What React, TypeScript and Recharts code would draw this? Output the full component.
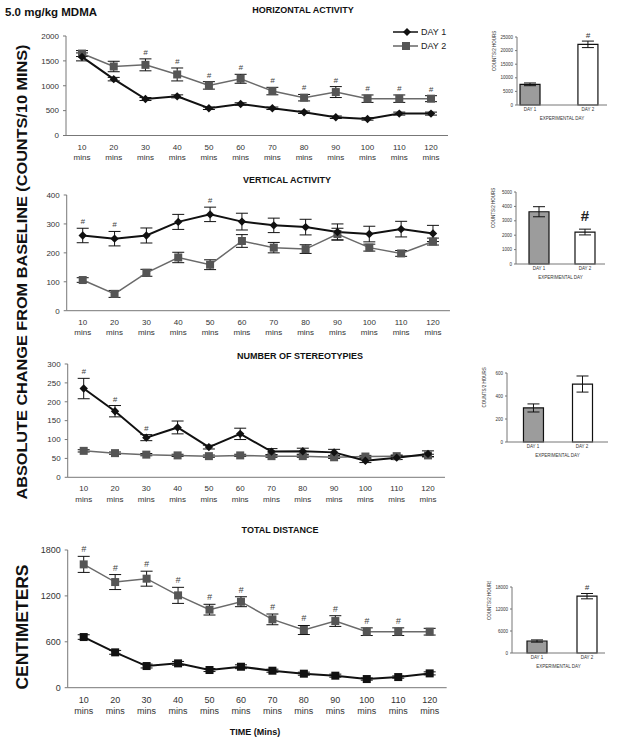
import React from 'react';
import { LineChart, Line, XAxis, YAxis, ErrorBar, LabelList, BarChart, Bar, Cell } from 'recharts';

const FONT = '"Liberation Sans", Arial, Helvetica, sans-serif';

const times = ['10', '20', '30', '40', '50', '60', '70', '80', '90', '100', '110', '120'];
const days = ['DAY 1', 'DAY 2'];

// horizontal activity
const horizDay1 = [1580, 1133, 733, 787, 547, 633, 547, 467, 367, 333, 440, 440];
const horizDay1Err = [80, 35, 30, 30, 25, 25, 25, 25, 25, 25, 30, 30];
const horizDay2 = [1647, 1387, 1420, 1227, 1007, 1140, 893, 760, 873, 740, 740, 740];
const horizDay2Err = [60, 105, 120, 130, 75, 90, 75, 65, 110, 75, 75, 60];
const horizSig1 = [false, false, false, false, false, false, false, false, false, false, false, false];
const horizSig2 = [false, false, true, true, true, true, true, true, true, true, true, true];

// vertical activity
const vertDay1 = [260, 249, 260, 307, 333, 308, 295, 289, 272, 265, 282, 267];
const vertDay1Err = [25, 25, 26, 26, 25, 29, 25, 27, 28, 27, 27, 28];
const vertDay2 = [106, 58, 131, 184, 159, 241, 218, 213, 265, 218, 198, 239];
const vertDay2Err = [8, 12, 12, 18, 17, 22, 18, 15, 20, 12, 10, 12];
const vertSig1 = [true, true, false, false, true, false, false, false, false, false, false, false];
const vertSig2 = [false, false, false, false, false, false, false, false, false, false, false, false];

// number of stereotypies
const stereoDay1 = [235, 175, 105, 132, 80, 115, 68, 69, 66, 44, 52, 62];
const stereoDay1Err = [27, 15, 8, 17, 5, 15, 8, 8, 8, 5, 5, 8];
const stereoDay2 = [70, 64, 60, 58, 56, 58, 56, 56, 53, 55, 56, 58];
const stereoDay2Err = [3, 3, 3, 3, 3, 3, 3, 3, 3, 3, 3, 3];
const stereoSig1 = [true, true, true, false, false, false, false, false, false, false, false, false];
const stereoSig2 = [false, false, false, false, false, false, false, false, false, false, false, false];

// total distance
const distDay1 = [662, 462, 283, 318, 231, 274, 222, 183, 157, 113, 139, 187];
const distDay1Err = [30, 25, 25, 25, 20, 25, 20, 20, 20, 15, 15, 20];
const distDay2 = [1612, 1381, 1425, 1207, 1020, 1124, 893, 754, 871, 732, 732, 732];
const distDay2Err = [105, 98, 98, 105, 70, 65, 70, 59, 70, 50, 50, 44];
const distSig1 = [false, false, false, false, false, false, false, false, false, false, false, false];
const distSig2 = [true, true, true, true, true, true, true, true, true, true, true, false];

// 2 hour totals (insets)
const horizTotal = [7600, 22300];
const horizTotalErr = [500, 1200];
const horizTotalSig = [false, true];
const vertTotal = [3630, 2220];
const vertTotalErr = [350, 200];
const vertTotalSig = [false, true];
const stereoTotal = [296, 504];
const stereoTotalErr = [35, 70];
const stereoTotalSig = [false, false];
const distTotal = [3270, 15500];
const distTotalErr = [300, 730];
const distTotalSig = [false, true];

const barFills = ['#9c9c9c', '#ffffff'];

const makeDot = (shape: string, fill: string) => (props: any) => {
  const { cx, cy, index } = props;
  if (cx == null || cy == null) return <g key={`dot-${index}`} />;
  if (shape === 'diamond') {
    const r = 4.2;
    return <path key={`dot-${index}`} d={`M${cx},${cy - r}L${cx + r},${cy}L${cx},${cy + r}L${cx - r},${cy}Z`} fill={fill} />;
  }
  return <rect key={`dot-${index}`} x={cx - 4} y={cy - 4} width={8} height={8} fill={fill} />;
};

const sigLabel = (flags: boolean[], errs: number[], pxPerUnit: number, size: number) => (props: any) => {
  const { x, y, index } = props;
  if (!flags[index]) return null;
  return (
    <text x={x} y={y - errs[index] * pxPerUnit - 4} textAnchor="middle" fontSize={size} fontStyle="italic" fill="#444" fontFamily={FONT}>
      #
    </text>
  );
};

const MinsTick = (props: any) => {
  const { x, y, payload, fs } = props;
  return (
    <text x={x} y={y} textAnchor="middle" fontSize={fs} fill="#333" fontFamily={FONT}>
      <tspan x={x} dy={fs + 6}>{payload.value}</tspan>
      <tspan x={x} dy={fs + 2.5}>mins</tspan>
    </text>
  );
};

type PanelProps = {
  plotTop: number;
  axisY: number;
  axisX: number;
  right: number;
  yMax: number;
  yTicks: number[];
  d1: number[];
  e1: number[];
  d2: number[];
  e2: number[];
  s1: boolean[];
  s2: boolean[];
  dot1: string;
  fs: number;
};

const Panel: React.FC<PanelProps> = ({ plotTop, axisY, axisX, right, yMax, yTicks, d1, e1, d2, e2, s1, s2, dot1, fs }) => {
  const mt = 8;
  const xh = 30;
  const plotH = axisY - plotTop;
  const ppu = plotH / yMax;
  const data = times.map((t, i) => ({ t, d1: d1[i], e1: e1[i], d2: d2[i], e2: e2[i] }));
  return (
    <div style={{ position: 'absolute', left: 0, top: plotTop - mt }}>
      <LineChart width={right + 4} height={plotH + mt + xh} data={data} margin={{ top: mt, right: 4, left: 0, bottom: 0 }}>
        <XAxis
          dataKey="t"
          padding={{ left: 16, right: 17 }}
          tickLine={false}
          tickSize={0}
          tickMargin={0}
          height={xh}
          interval={0}
          stroke="#777"
          tick={(p: any) => <MinsTick {...p} fs={fs} />}
        />
        <YAxis
          width={axisX}
          domain={[0, yMax]}
          ticks={yTicks}
          tickSize={3}
          tickMargin={4}
          stroke="#777"
          tick={{ fontSize: fs, fill: '#333', fontFamily: FONT }}
        />
        <Line dataKey="d2" stroke="#6a6a6a" strokeWidth={1.5} dot={makeDot('square', '#555')} isAnimationActive={false}>
          <ErrorBar dataKey="e2" width={6} stroke="#111" strokeWidth={1} />
          <LabelList dataKey="d2" content={sigLabel(s2, e2, ppu, fs)} />
        </Line>
        <Line dataKey="d1" stroke="#111" strokeWidth={2} dot={makeDot(dot1, '#111')} isAnimationActive={false}>
          <ErrorBar dataKey="e1" width={6} stroke="#111" strokeWidth={1} />
          <LabelList dataKey="d1" content={sigLabel(s1, e1, ppu, fs)} />
        </Line>
      </LineChart>
    </div>
  );
};

type InsetProps = {
  x0: number;
  plotTop: number;
  axisY: number;
  x1: number;
  yMax: number;
  yTicks: number[];
  xDomain: number[];
  values: number[];
  errs: number[];
  sig: boolean[];
  bigSig?: boolean;
};

const Inset: React.FC<InsetProps> = ({ x0, plotTop, axisY, x1, yMax, yTicks, xDomain, values, errs, sig, bigSig }) => {
  const yw = 28;
  const mt = 6;
  const xh = 16;
  const plotH = axisY - plotTop;
  const ppu = plotH / yMax;
  const data = days.map((d, i) => ({ pos: i + 1, v: values[i], e: errs[i] }));
  const barSig = (props: any) => {
    const { x, y, width, index } = props;
    if (!sig[index]) return null;
    const top = y - errs[index] * ppu;
    return bigSig ? (
      <text x={x + width / 2} y={top - 8} textAnchor="middle" fontSize={15} fontWeight="bold" fill="#222" fontFamily={FONT}>#</text>
    ) : (
      <text x={x + width / 2} y={top - 3} textAnchor="middle" fontSize={8} fontStyle="italic" fill="#333" fontFamily={FONT}>#</text>
    );
  };
  return (
    <div style={{ position: 'absolute', left: x0 - yw, top: plotTop - mt }}>
      <BarChart width={x1 - x0 + yw + 2} height={plotH + mt + xh} data={data} margin={{ top: mt, right: 2, left: 0, bottom: 0 }}>
        <XAxis
          dataKey="pos"
          type="number"
          domain={xDomain}
          ticks={[1, 2]}
          tickFormatter={(v: number) => days[v - 1]}
          tickLine={false}
          tickSize={0}
          tickMargin={3}
          height={xh}
          stroke="#777"
          tick={{ fontSize: 4.5, fill: '#333', fontFamily: FONT }}
          label={{ value: 'EXPERIMENTAL DAY', position: 'insideBottom', offset: 1, fontSize: 4.5, fill: '#333', fontFamily: FONT }}
        />
        <YAxis
          width={yw}
          domain={[0, yMax]}
          ticks={yTicks}
          tickSize={2}
          tickMargin={2}
          stroke="#777"
          tick={{ fontSize: 4.5, fill: '#333', fontFamily: FONT }}
          label={{ value: 'COUNTS/2 HOURS', angle: -90, position: 'insideLeft', offset: 5, fontSize: 4.5, fill: '#333', fontFamily: FONT }}
        />
        <Bar dataKey="v" barSize={20} stroke="#111" strokeWidth={1.2} isAnimationActive={false}>
          {values.map((v, i) => (
            <Cell key={`c-${i}`} fill={barFills[i]} />
          ))}
          <ErrorBar dataKey="e" width={6} stroke="#111" strokeWidth={1} />
          <LabelList dataKey="v" content={barSig} />
        </Bar>
      </BarChart>
    </div>
  );
};

const titleStyle = { fontSize: 9, fontWeight: 'bold' as const, fill: '#111', fontFamily: FONT };

export default function App() {
  return (
    <div style={{ position: 'absolute', left: 0, top: 0, width: 640, height: 750, background: '#fff', overflow: 'hidden' }}>
      <Panel plotTop={36} axisY={135.5} axisX={66} right={448} yMax={2000} yTicks={[0, 500, 1000, 1500, 2000]}
        d1={horizDay1} e1={horizDay1Err} d2={horizDay2} e2={horizDay2Err} s1={horizSig1} s2={horizSig2} dot1="diamond" fs={8} />
      <Panel plotTop={195} axisY={310.7} axisX={66.7} right={450} yMax={400} yTicks={[0, 100, 200, 300, 400]}
        d1={vertDay1} e1={vertDay1Err} d2={vertDay2} e2={vertDay2Err} s1={vertSig1} s2={vertSig2} dot1="diamond" fs={8} />
      <Panel plotTop={364} axisY={477.3} axisX={67.7} right={445} yMax={300} yTicks={[0, 50, 100, 150, 200, 250, 300]}
        d1={stereoDay1} e1={stereoDay1Err} d2={stereoDay2} e2={stereoDay2Err} s1={stereoSig1} s2={stereoSig2} dot1="diamond" fs={8} />
      <Panel plotTop={550} axisY={687.7} axisX={67.7} right={446.7} yMax={1800} yTicks={[0, 600, 1200, 1800]}
        d1={distDay1} e1={distDay1Err} d2={distDay2} e2={distDay2Err} s1={distSig1} s2={distSig2} dot1="square" fs={9} />

      <Inset x0={517} plotTop={37} axisY={105} x1={607} yMax={25000} yTicks={[0, 5000, 10000, 15000, 20000, 25000]}
        xDomain={[0.776, 2.33]} values={horizTotal} errs={horizTotalErr} sig={horizTotalSig} />
      <Inset x0={516} plotTop={192} axisY={264} x1={605} yMax={5000} yTicks={[0, 1000, 2000, 3000, 4000, 5000]}
        xDomain={[0.5, 2.435]} values={vertTotal} errs={vertTotalErr} sig={vertTotalSig} bigSig />
      <Inset x0={507} plotTop={373} axisY={442} x1={608} yMax={600} yTicks={[0, 200, 400, 600]}
        xDomain={[0.47, 2.53]} values={stereoTotal} errs={stereoTotalErr} sig={stereoTotalSig} />
      <Inset x0={512} plotTop={587} axisY={653} x1={605} yMax={18000} yTicks={[0, 6000, 12000, 18000]}
        xDomain={[0.5, 2.36]} values={distTotal} errs={distTotalErr} sig={distTotalSig} />

      <svg width={640} height={750} style={{ position: 'absolute', left: 0, top: 0, pointerEvents: 'none' }}>
        <text x={5} y={12} dy="0.35em" fontSize={11.5} fontWeight="bold" fill="#111" fontFamily={FONT}>5.0 mg/kg MDMA</text>
        <text x={303} y={10} dy="0.35em" textAnchor="middle" {...titleStyle}>HORIZONTAL ACTIVITY</text>
        <text x={287} y={180} dy="0.35em" textAnchor="middle" {...titleStyle}>VERTICAL ACTIVITY</text>
        <text x={300} y={356} dy="0.35em" textAnchor="middle" {...titleStyle}>NUMBER OF STEREOTYPIES</text>
        <text x={280} y={530} dy="0.35em" textAnchor="middle" {...titleStyle}>TOTAL DISTANCE</text>
        <text x={255} y={732} dy="0.35em" textAnchor="middle" {...titleStyle}>TIME (Mins)</text>

        <text x={22} y={272} dy="0.35em" textAnchor="middle" transform="rotate(-90 22 272)" fontSize={15} fontWeight="bold"
          fill="#111" fontFamily={FONT} textLength={455} lengthAdjust="spacingAndGlyphs">
          ABSOLUTE CHANGE FROM BASELINE (COUNTS/10 MINS)
        </text>
        <text x={22} y={627} dy="0.35em" textAnchor="middle" transform="rotate(-90 22 627)" fontSize={17} fontWeight="bold"
          fill="#111" fontFamily={FONT} textLength={125} lengthAdjust="spacingAndGlyphs">
          CENTIMETERS
        </text>

        <line x1={393} y1={32} x2={418} y2={32} stroke="#111" strokeWidth={1.5} />
        <path d="M407,28L411,32L407,36L403,32Z" fill="#111" />
        <text x={421} y={32} dy="0.35em" fontSize={9} fill="#222" fontFamily={FONT}>DAY 1</text>
        <line x1={393} y1={46} x2={418} y2={46} stroke="#666" strokeWidth={1.5} />
        <rect x={402} y={42} width={8} height={8} fill="#555" />
        <text x={421} y={46} dy="0.35em" fontSize={9} fill="#222" fontFamily={FONT}>DAY 2</text>
      </svg>
    </div>
  );
}
